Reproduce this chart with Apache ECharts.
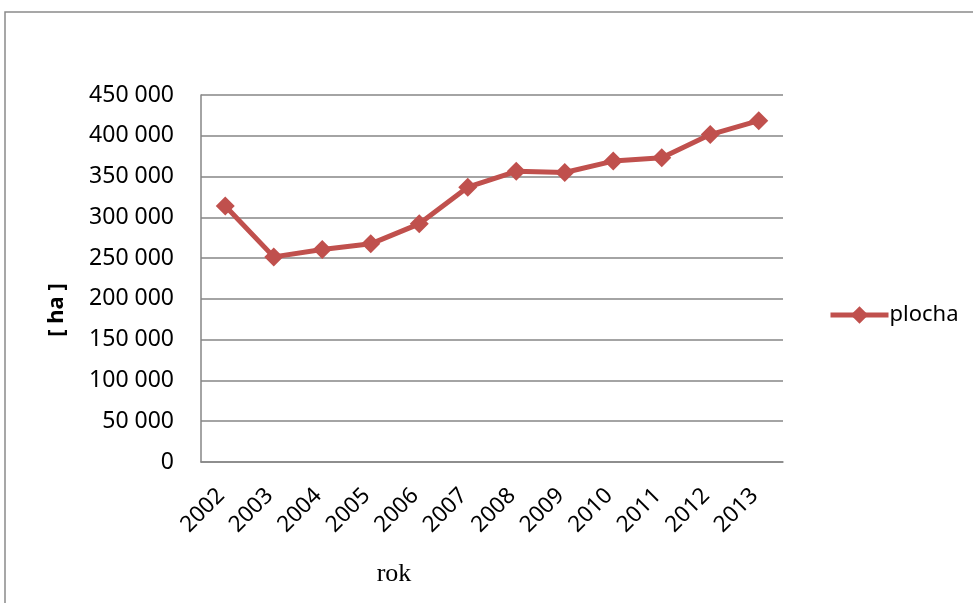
<!DOCTYPE html>
<html>
<head>
<meta charset="utf-8">
<script src="https://cdn.jsdelivr.net/npm/echarts@6/dist/echarts.min.js"></script>
<style>
  html, body { margin: 0; padding: 0; background: #fff; }
  #chart { width: 973px; height: 603px; }
</style>
</head>
<body>
<div id="chart"></div>
<script>
// Sown area by year, in hectares
const years = ['2002', '2003', '2004', '2005', '2006', '2007', '2008', '2009', '2010', '2011', '2012', '2013'];
const plocha = [314000, 251500, 260500, 267500, 292000, 337000, 356500, 355000, 369000, 373000, 401500, 418500];
const seriesName = 'plocha';
const yAxisTitle = '[ ha ]';
const xAxisTitle = 'rok';

const sans = '"Noto Sans", "Open Sans", sans-serif';
const red = '#C0504D';

// thousands separated by a space: 450 000
function spaced(v) {
  return String(v).replace(/\B(?=(\d{3})+(?!\d))/g, ' ');
}

const chart = echarts.init(document.getElementById('chart'), null, { renderer: 'canvas' });
chart.setOption({
  animation: false,
  backgroundColor: '#ffffff',
  grid: { left: 201, right: 190, top: 95, bottom: 141, containLabel: false },
  legend: {
    left: 823,
    top: 299,
    itemWidth: 58,
    itemHeight: 22,
    itemGap: 5,
    data: [{
      name: seriesName,
      lineStyle: { width: 5, color: red },
      itemStyle: { color: red }
    }],
    textStyle: { fontFamily: sans, fontSize: 22, color: '#000', padding: [0, 0, 0, -4] }
  },
  xAxis: {
    type: 'category',
    data: years,
    boundaryGap: true,
    axisLine: { lineStyle: { color: '#868686', width: 1.5 } },
    axisTick: { show: false },
    axisLabel: {
      rotate: 45,
      margin: 26,
      padding: [0, 6, 0, 0],
      color: '#000',
      fontFamily: sans,
      fontSize: 22.5,
      interval: 0
    }
  },
  yAxis: {
    type: 'value',
    min: 0,
    max: 450000,
    interval: 50000,
    axisLine: { show: true, lineStyle: { color: '#868686', width: 1.5 } },
    axisTick: { show: false },
    splitLine: { lineStyle: { color: '#868686', width: 1.5 } },
    axisLabel: {
      margin: 27,
      color: '#000',
      fontFamily: sans,
      fontSize: 23,
      formatter: spaced
    }
  },
  series: [{
    name: seriesName,
    type: 'line',
    data: plocha,
    symbol: 'diamond',
    symbolSize: 19,
    showAllSymbol: true,
    lineStyle: { color: red, width: 5 },
    itemStyle: { color: red, borderWidth: 0 }
  }],
  graphic: [
    {
      type: 'rect',
      shape: { x: 5, y: 12, width: 1200, height: 1000 },
      style: { fill: 'none', stroke: '#8a8a8a', lineWidth: 1.5 },
      silent: true,
      z: -1
    },
    {
      type: 'text',
      x: 57,
      y: 310,
      rotation: Math.PI / 2,
      style: {
        text: yAxisTitle,
        font: 'bold 22px "Noto Sans", "Open Sans", sans-serif',
        fill: '#000',
        textAlign: 'center',
        textVerticalAlign: 'middle'
      }
    },
    {
      type: 'text',
      x: 394,
      y: 574,
      style: {
        text: xAxisTitle,
        font: '26px "Liberation Serif", "Times New Roman", serif',
        fill: '#000',
        textAlign: 'center',
        textVerticalAlign: 'middle'
      }
    }
  ]
});
</script>
</body>
</html>
